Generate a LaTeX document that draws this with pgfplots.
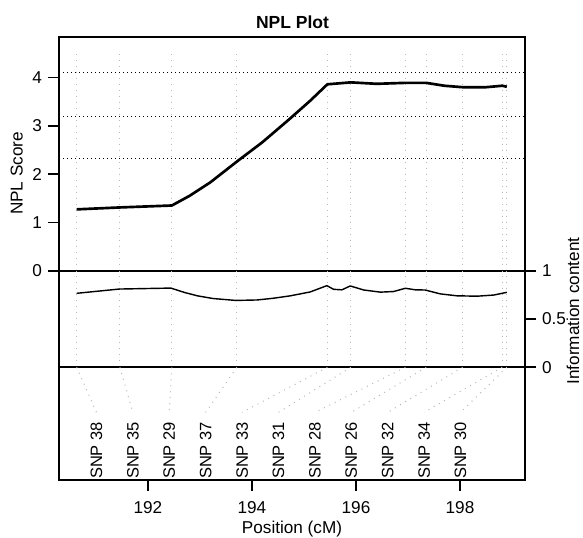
\documentclass[border=0pt]{standalone}
\usepackage{fontspec}
\setmainfont{Liberation Sans}
\usepackage{pgfplots}
\usepackage{pgfplotstable}
\pgfplotsset{compat=1.18}

% NPL score along the region
\pgfplotstableread{
pos npl
190.63 1.27
191.46 1.31
192.46 1.35
192.80 1.55
193.20 1.83
193.71 2.26
194.20 2.66
194.70 3.12
195.12 3.52
195.45 3.86
195.90 3.90
196.40 3.87
196.95 3.89
197.35 3.89
197.70 3.83
198.05 3.80
198.50 3.80
198.81 3.83
198.90 3.81
}\npldata

% information content
\pgfplotstableread{
pos info
190.63 0.766
191.45 0.810
192.44 0.820
192.70 0.775
192.95 0.740
193.25 0.712
193.69 0.692
194.10 0.697
194.40 0.714
194.74 0.740
195.12 0.780
195.44 0.845
195.57 0.807
195.73 0.802
195.89 0.842
196.15 0.800
196.47 0.778
196.72 0.784
196.95 0.818
197.14 0.802
197.33 0.800
197.62 0.760
197.94 0.740
198.33 0.736
198.65 0.748
198.90 0.776
}\infodata

% SNP marker positions (cM)
\pgfplotstableread{
pos top full
190.63 4.51 1
191.46 4.51 1
192.46 4.51 1
193.71 4.51 1
195.45 4.51 1
195.90 4.51 1
196.95 4.51 1
197.35 4.51 1
198.05 4.51 1
198.81 4.51 1
198.90 4.51 1
}\snpdata

\definecolor{gridc}{gray}{0.72}

\begin{document}
\fontsize{10.3}{12.4}\selectfont
\begin{tikzpicture}
\useasboundingbox (0,0) rectangle (349.8pt,322.8pt);
\pgfplotsset{panel/.style={
    scale only axis, width=279.6pt,
    xmin=190.29, xmax=199.25,
    anchor=south west,
    axis line style={line width=1pt},
    tick style={black, line width=1pt},
    tick align=outside, major tick length=6.6pt,
    xticklabel style={yshift=-2.4pt},
    /pgf/number format/assume math mode=true},
  snpgrid/.style={gridc, line width=0.6pt, dash pattern=on 0.6pt off 3pt}}

% NPL panel
\begin{axis}[panel, at={(35.4pt,160.38pt)}, height=140.22pt,
    ymin=0, ymax=4.84, xtick=\empty, ytick={0,1,2,3,4}, ytick pos=left]
\addplot[ycomb, snpgrid] table[x=pos, y=top] {\snpdata};
\addplot[black, line width=0.7pt, dash pattern=on 0.7pt off 1.7pt] coordinates {(190.29,4.11) (199.25,4.11)};
\addplot[black, line width=0.7pt, dash pattern=on 0.7pt off 1.7pt] coordinates {(190.29,3.19) (199.25,3.19)};
\addplot[black, line width=0.7pt, dash pattern=on 0.7pt off 1.7pt] coordinates {(190.29,2.32) (199.25,2.32)};
\addplot[black, line width=1.6pt, line join=round] table[x=pos, y=npl] {\npldata};
\end{axis}

% information content panel
\begin{axis}[panel, at={(35.4pt,102.42pt)}, height=57.96pt,
    ymin=0, ymax=1, xtick=\empty, ytick={0,0.5,1}, ytick pos=right]
\addplot[ycomb, snpgrid] table[x=pos, y=full] {\snpdata};
\addplot[black, line width=0.85pt, line join=round] table[x=pos, y=info] {\infodata};
\end{axis}

% marker label panel
\begin{axis}[panel, at={(35.4pt,34.8pt)}, height=67.62pt,
    ymin=0, ymax=1, ytick=\empty, xtick={192,194,196,198}, xtick pos=bottom,
    unbounded coords=jump]
\addplot[snpgrid] coordinates {
  (190.63,1) (191.01,0.6) (nan,nan)
  (191.46,1) (191.71,0.6) (nan,nan)
  (192.46,1) (192.41,0.6) (nan,nan)
  (193.71,1) (193.11,0.6) (nan,nan)
  (195.45,1) (193.81,0.6) (nan,nan)
  (195.90,1) (194.51,0.6) (nan,nan)
  (196.95,1) (195.21,0.6) (nan,nan)
  (197.35,1) (195.91,0.6) (nan,nan)
  (198.05,1) (196.61,0.6) (nan,nan)
  (198.81,1) (197.31,0.6) (nan,nan)
  (198.90,1) (198.01,0.6)
};
\begin{scope}[every node/.style={rotate=90, anchor=east, inner sep=0pt, font=\fontsize{9.9}{11.8}\selectfont}]
\node at (axis cs:191.01,0.517) {SNP 38};
\node at (axis cs:191.71,0.517) {SNP 35};
\node at (axis cs:192.41,0.517) {SNP 29};
\node at (axis cs:193.11,0.517) {SNP 37};
\node at (axis cs:193.81,0.517) {SNP 33};
\node at (axis cs:194.51,0.517) {SNP 31};
\node at (axis cs:195.21,0.517) {SNP 28};
\node at (axis cs:195.91,0.517) {SNP 26};
\node at (axis cs:196.61,0.517) {SNP 32};
\node at (axis cs:197.31,0.517) {SNP 34};
\node at (axis cs:198.01,0.517) {SNP 30};
\end{scope}
\end{axis}

\node[font=\bfseries\fontsize{10.5}{12.6}\selectfont] at (175.5pt,309.2pt) {NPL Plot};
\node[rotate=90] at (10pt,218.7pt) {NPL Score};
\node[rotate=90] at (343.8pt,136.2pt) {Information content};
\node at (175.2pt,5.6pt) {Position (cM)};
\end{tikzpicture}
\end{document}
